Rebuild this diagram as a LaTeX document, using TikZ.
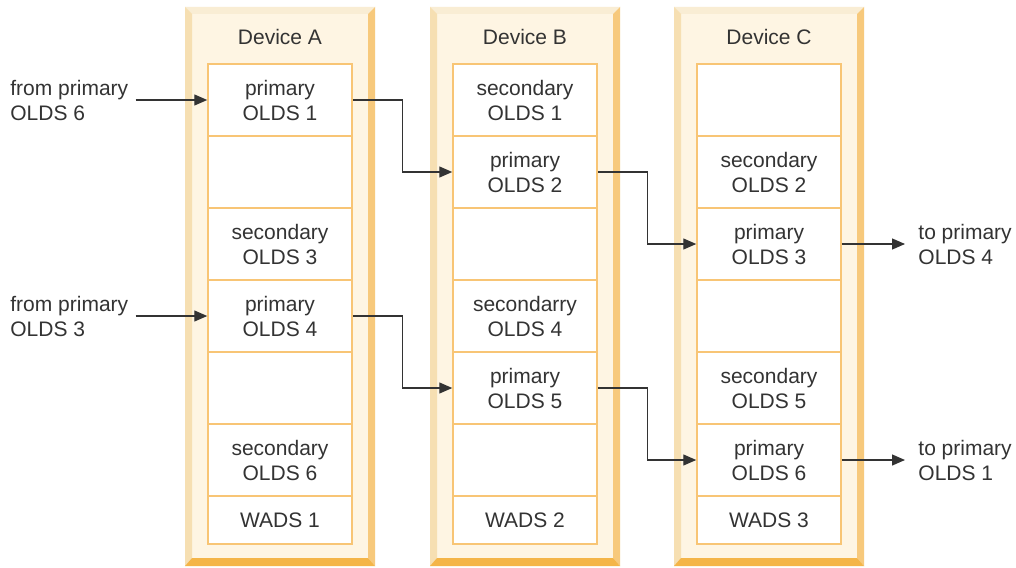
\documentclass[tikz,border=0pt]{standalone}
\usepackage{fontspec}
\setmainfont{Liberation Sans}
\usetikzlibrary{arrows.meta}
\definecolor{txt}{HTML}{333333}
\definecolor{bevtop}{HTML}{F9EDD4}
\definecolor{bevleft}{HTML}{F6DFB2}
\definecolor{bevright}{HTML}{F7C97C}
\definecolor{bevbot}{HTML}{F4B548}
\definecolor{devfill}{HTML}{FEF5E3}
\definecolor{cellline}{HTML}{F8C575}
\newcommand\drawdevice[3]{%
  \fill[devfill] ({#2-95},7) rectangle ({#2+95},566);
  \fill[bevtop] ({#2-95},7) -- ({#2+95},7) -- ({#2+88},14) -- ({#2-88},14) -- cycle;
  \fill[bevleft] ({#2-95},7) -- ({#2-88},14) -- ({#2-88},558) -- ({#2-95},566) -- cycle;
  \fill[bevright] ({#2+95},7) -- ({#2+88},14) -- ({#2+88},558) -- ({#2+95},566) -- cycle;
  \fill[bevbot] ({#2-95},566) -- ({#2-88},558) -- ({#2+88},558) -- ({#2+95},566) -- cycle;
  \node[devlabel] (#1) at (#2,37) {#3};
}
\tikzset{
  txtfont/.style={font=\fontsize{10.5pt}{12.5pt}\selectfont, text=txt},
  devlabel/.style={txtfont, inner sep=0pt},
  cell/.style={txtfont, draw=cellline, line width=0.75pt, fill=white, minimum width=72pt, minimum height=36pt, align=center, inner sep=0pt},
  wads/.style={cell, minimum height=24pt},
  lbl/.style={txtfont, align=left, inner sep=3.5pt},
  conn/.style={draw=txt, line width=0.65pt, -{Triangle[length=6.5pt,width=5.5pt]}},
}
\begin{document}
\begin{tikzpicture}[x=0.5pt,y=-0.5pt]
\useasboundingbox (0,0) rectangle (1016,567);
\fill[white] (0,0) rectangle (1016,567);
\drawdevice{devA}{280}{Device A}
\drawdevice{devB}{525}{Device B}
\drawdevice{devC}{769}{Device C}
% Device A
\node[cell] (a1) at (280,100) {primary\\OLDS 1};
\node[cell] (a2) at (280,172) {};
\node[cell] (a3) at (280,244) {secondary\\OLDS 3};
\node[cell] (a4) at (280,316) {primary\\OLDS 4};
\node[cell] (a5) at (280,388) {};
\node[cell] (a6) at (280,460) {secondary\\OLDS 6};
\node[wads] (a7) at (280,520) {WADS 1};
% Device B
\node[cell] (b1) at (525,100) {secondary\\OLDS 1};
\node[cell] (b2) at (525,172) {primary\\OLDS 2};
\node[cell] (b3) at (525,244) {};
\node[cell] (b4) at (525,316) {secondarry\\OLDS 4};
\node[cell] (b5) at (525,388) {primary\\OLDS 5};
\node[cell] (b6) at (525,460) {};
\node[wads] (b7) at (525,520) {WADS 2};
% Device C
\node[cell] (c1) at (769,100) {};
\node[cell] (c2) at (769,172) {secondary\\OLDS 2};
\node[cell] (c3) at (769,244) {primary\\OLDS 3};
\node[cell] (c4) at (769,316) {};
\node[cell] (c5) at (769,388) {secondary\\OLDS 5};
\node[cell] (c6) at (769,460) {primary\\OLDS 6};
\node[wads] (c7) at (769,520) {WADS 3};
% outside labels
\node[lbl, anchor=west] (in1) at (3,100) {from primary\\OLDS 6};
\node[lbl, anchor=west] (in2) at (3,316) {from primary\\OLDS 3};
\node[lbl, anchor=west, inner xsep=6.5pt] (out1) at (905,244) {to primary\\OLDS 4};
\node[lbl, anchor=west, inner xsep=6.5pt] (out2) at (905,460) {to primary\\OLDS 1};
% connectors
\draw[conn] (in1.east |- a1.west) -- (a1.west);
\draw[conn] (in2.east |- a4.west) -- (a4.west);
\draw[conn] (a1.east) -- ++(50,0) |- (b2.west);
\draw[conn] (a4.east) -- ++(50,0) |- (b5.west);
\draw[conn] (b2.east) -- ++(50,0) |- (c3.west);
\draw[conn] (b5.east) -- ++(50,0) |- (c6.west);
\draw[conn] (c3.east) -- (out1.west);
\draw[conn] (c6.east) -- (out2.west);
\end{tikzpicture}
\end{document}
